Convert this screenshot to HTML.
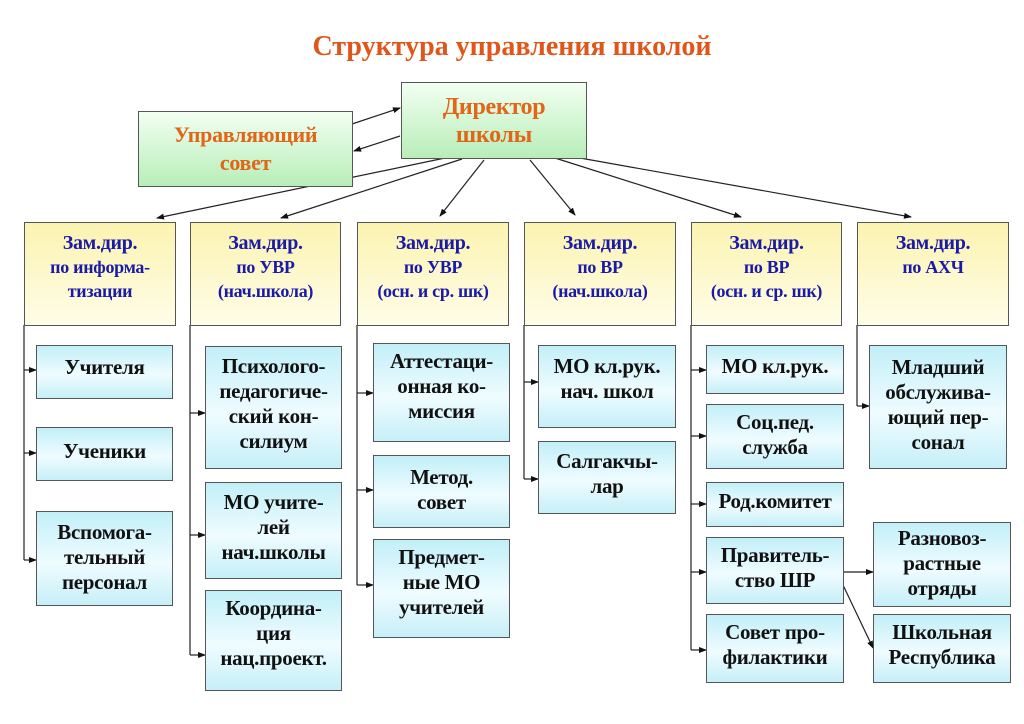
<!DOCTYPE html>
<html><head><meta charset="utf-8"><style>
body{margin:0;width:1024px;height:724px;background:#fff;position:relative;overflow:hidden;font-family:"Liberation Serif","DejaVu Serif",serif;font-weight:bold}
.b{position:absolute;box-sizing:border-box;border:1.5px solid #555;text-align:center;color:#111;font-size:21px;line-height:25px;padding-top:4px;white-space:nowrap;letter-spacing:-0.3px}
.c{background:linear-gradient(#c2eff8,#effcff 55%,#c6eff8)}
.y{background:linear-gradient(#fbf3b0,#fffde8);color:#1a1aa8;font-size:18px;line-height:24px;padding-top:8px}
.y span{font-size:20px}
.g{background:linear-gradient(#f2fff2,#b8eeb8);color:#e0661a;font-size:22px;line-height:28px}
svg{position:absolute;left:0;top:0}
</style></head><body>
<div style="position:absolute;left:0;width:1024px;top:31px;text-align:center;color:#e0561a;font-size:28px">Структура управления школой</div>

<svg width="1024" height="724">
<defs><marker id="a" markerWidth="8" markerHeight="8" refX="7" refY="4" orient="auto" markerUnits="userSpaceOnUse"><path d="M0,1 L8,4 L0,7z" fill="#111"/></marker></defs>
<g stroke="#222" stroke-width="1.2" fill="none" marker-end="url(#a)">
<line x1="352" y1="124" x2="400" y2="108"/>
<line x1="400" y1="136" x2="354" y2="151"/>
<line x1="445" y1="158" x2="157" y2="218"/>
<line x1="462" y1="159" x2="281" y2="218"/>
<line x1="484" y1="160" x2="440" y2="216"/>
<line x1="530" y1="160" x2="575" y2="215"/>
<line x1="555" y1="158" x2="741" y2="217"/>
<line x1="580" y1="158" x2="911" y2="217"/>
<line x1="24" y1="370" x2="36" y2="370"/><line x1="24" y1="453" x2="36" y2="453"/><line x1="24" y1="560" x2="36" y2="560"/>
<line x1="190" y1="413" x2="205" y2="413"/><line x1="190" y1="535" x2="205" y2="535"/><line x1="190" y1="655" x2="205" y2="655"/>
<line x1="357" y1="393" x2="373" y2="393"/><line x1="357" y1="490" x2="373" y2="490"/><line x1="357" y1="585" x2="373" y2="585"/>
<line x1="524" y1="382" x2="538" y2="382"/><line x1="524" y1="479" x2="538" y2="479"/>
<line x1="691" y1="370" x2="706" y2="370"/><line x1="691" y1="436" x2="706" y2="436"/><line x1="691" y1="504" x2="706" y2="504"/><line x1="691" y1="572" x2="706" y2="572"/><line x1="691" y1="650" x2="706" y2="650"/>
<line x1="857" y1="406" x2="869" y2="406"/>
<line x1="843" y1="572" x2="873" y2="572"/>
<line x1="843" y1="585" x2="873" y2="648"/>
</g>
<g stroke="#222" stroke-width="1.2">
<line x1="24" y1="325" x2="24" y2="560"/><line x1="190" y1="325" x2="190" y2="655"/><line x1="357" y1="325" x2="357" y2="585"/>
<line x1="524" y1="325" x2="524" y2="479"/><line x1="691" y1="325" x2="691" y2="650"/><line x1="857" y1="325" x2="857" y2="406"/>
</g>
</svg>

<div class="b g" style="left:401px;top:82px;width:186px;height:77px;font-size:24px;padding-top:10px">Директор<br>школы</div>
<div class="b g" style="left:138px;top:111px;width:215px;height:76px;padding-top:9px">Управляющий<br>совет</div>

<div class="b y" style="left:24px;top:222px;width:152px;height:104px"><span>Зам.дир.</span><br>по информа-<br>тизации</div>
<div class="b y" style="left:190px;top:222px;width:151px;height:104px"><span>Зам.дир.</span><br>по УВР<br>(нач.школа)</div>
<div class="b y" style="left:357px;top:222px;width:152px;height:104px"><span>Зам.дир.</span><br>по УВР<br>(осн. и ср. шк)</div>
<div class="b y" style="left:524px;top:222px;width:152px;height:104px"><span>Зам.дир.</span><br>по ВР<br>(нач.школа)</div>
<div class="b y" style="left:691px;top:222px;width:151px;height:104px"><span>Зам.дир.</span><br>по ВР<br>(осн. и ср. шк)</div>
<div class="b y" style="left:857px;top:222px;width:152px;height:104px"><span>Зам.дир.</span><br>по АХЧ</div>

<div class="b c" style="left:36px;top:345px;width:137px;height:54px;padding-top:9px">Учителя</div>
<div class="b c" style="left:36px;top:427px;width:137px;height:54px;padding-top:11px">Ученики</div>
<div class="b c" style="left:36px;top:511px;width:137px;height:95px;padding-top:8px">Вспомога-<br>тельный<br>персонал</div>

<div class="b c" style="left:205px;top:346px;width:137px;height:123px;padding-top:7px">Психолого-<br>педагогиче-<br>ский кон-<br>силиум</div>
<div class="b c" style="left:205px;top:482px;width:137px;height:97px;padding-top:7px">МО учите-<br>лей<br>нач.школы</div>
<div class="b c" style="left:205px;top:590px;width:137px;height:101px;padding-top:5px">Координа-<br>ция<br>нац.проект.</div>

<div class="b c" style="left:373px;top:343px;width:137px;height:99px;padding-top:5px">Аттестаци-<br>онная ко-<br>миссия</div>
<div class="b c" style="left:373px;top:455px;width:137px;height:73px;padding-top:9px">Метод.<br>совет</div>
<div class="b c" style="left:373px;top:539px;width:137px;height:99px;padding-top:5px">Предмет-<br>ные МО<br>учителей</div>

<div class="b c" style="left:538px;top:345px;width:138px;height:83px;padding-top:8px">МО кл.рук.<br>нач. школ</div>
<div class="b c" style="left:538px;top:441px;width:138px;height:73px;padding-top:7px">Салгакчы-<br>лар</div>

<div class="b c" style="left:706px;top:345px;width:138px;height:49px;padding-top:8px">МО кл.рук.</div>
<div class="b c" style="left:706px;top:404px;width:138px;height:65px;padding-top:5px">Соц.пед.<br>служба</div>
<div class="b c" style="left:706px;top:482px;width:138px;height:45px;padding-top:6px">Род.комитет</div>
<div class="b c" style="left:706px;top:537px;width:138px;height:67px;padding-top:5px">Правитель-<br>ство ШР</div>
<div class="b c" style="left:706px;top:614px;width:138px;height:69px;padding-top:5px">Совет про-<br>филактики</div>

<div class="b c" style="left:869px;top:345px;width:138px;height:124px;padding-top:9px">Младший<br>обслужива-<br>ющий пер-<br>сонал</div>
<div class="b c" style="left:873px;top:522px;width:138px;height:85px;padding-top:3px">Разновоз-<br>растные<br>отряды</div>
<div class="b c" style="left:873px;top:614px;width:138px;height:69px;padding-top:5px">Школьная<br>Республика</div>
</body></html>
